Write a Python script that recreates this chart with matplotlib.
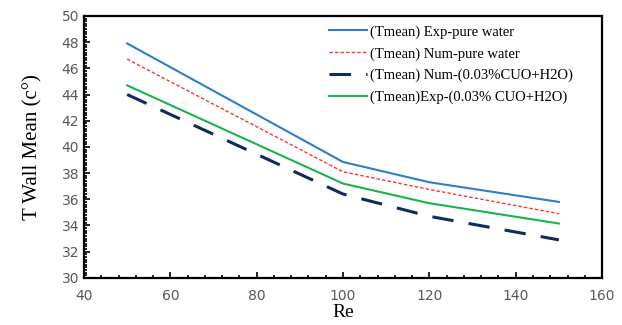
import matplotlib
matplotlib.use("Agg")
import matplotlib.pyplot as plt
from matplotlib.ticker import MultipleLocator

re_vals = [50, 100, 120, 150]
exp_water = [47.9, 38.85, 37.3, 35.8]
num_water = [46.7, 38.1, 36.75, 34.9]
num_cuo = [44.0, 36.4, 34.7, 32.9]
exp_cuo = [44.7, 37.2, 35.7, 34.15]

labels = ["(Tmean) Exp-pure water", "(Tmean) Num-pure water",
          "(Tmean) Num-(0.03%CUO+H2O)", "(Tmean)Exp-(0.03% CUO+H2O)"]

fig = plt.figure(figsize=(6.22, 3.25), dpi=100)
ax = fig.add_axes([0.135, 0.145, 0.833, 0.806])

ax.plot(re_vals, exp_water, color="#2e7dc8", lw=1.5, label=labels[0])
ax.plot(re_vals, num_water, color="#ff3333", lw=1.0, ls=(0, (2.5, 1.5)), label=labels[1])
ax.plot(re_vals, num_cuo, color="#102a5c", lw=2.2, ls=(0, (7, 5)), label=labels[2])
ax.plot(re_vals, exp_cuo, color="#1ab34d", lw=1.5, label=labels[3])

ax.set_xlim(40, 160)
ax.set_ylim(30, 50)
ax.xaxis.set_major_locator(MultipleLocator(20))
ax.xaxis.set_minor_locator(MultipleLocator(4))
ax.yaxis.set_major_locator(MultipleLocator(2))
ax.yaxis.set_minor_locator(MultipleLocator(0.2))
ax.tick_params(which="both", direction="in", top=False, right=False,
               labelsize=10, labelcolor="#595959", width=1.2)
ax.tick_params(axis="x", which="major", pad=8)
ax.tick_params(which="major", length=4)
ax.tick_params(which="minor", length=2.5)
for s in ax.spines.values():
    s.set_linewidth(1.6)

ax.set_xlabel("Re", family="Liberation Serif", fontsize=14, labelpad=1)
ax.set_ylabel("T Wall Mean (c\u00b0)", family="Liberation Serif", fontsize=15, labelpad=14)

ax.legend(loc="upper right", frameon=False, prop={"family": "Liberation Serif", "size": 10.5},
          handlelength=2.6, handletextpad=0.2, labelspacing=0.58,
          bbox_to_anchor=(0.968, 1.015))

fig.savefig("out.png", dpi=100)
